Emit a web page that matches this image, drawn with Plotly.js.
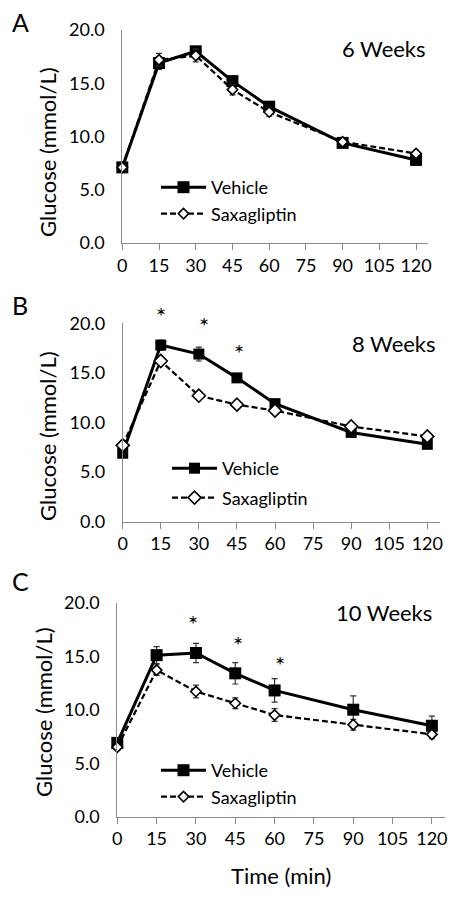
<!DOCTYPE html>
<html>
<head>
<meta charset="utf-8">
<script src="https://cdn.plot.ly/plotly-3.0.1.min.js"></script>
<style>html,body{margin:0;padding:0;background:#fff;}#chart{width:450px;height:898px;}</style>
</head>
<body>
<div id="chart"></div>
<script>
// ---- data ----
const times = [0, 15, 30, 45, 60, 90, 120];
const xTicks = [0, 15, 30, 45, 60, 75, 90, 105, 120];
const yTicks = [0, 5, 10, 15, 20];
const panelLabels = ['A', 'B', 'C'];
const weekLabels = ['6 Weeks', '8 Weeks', '10 Weeks'];
const yTitle = 'Glucose (mmol/L)';
const xTitle = 'Time (min)';

const vehicleA = [7.1, 16.9, 18.0, 15.2, 12.8, 9.4, 7.8];
const vehicleErrA = [0.2, 0.6, 0.4, 0.4, 0.3, 0.2, 0.3];
const saxaA = [7.1, 17.2, 17.6, 14.4, 12.3, 9.5, 8.4];
const saxaErrA = [0.2, 0.6, 0.6, 0.5, 0.4, 0.3, 0.3];

const vehicleB = [6.9, 17.8, 16.9, 14.5, 11.9, 9.0, 7.8];
const vehicleErrB = [0.2, 0.5, 0.7, 0.3, 0.3, 0.2, 0.2];
const saxaB = [7.7, 16.2, 12.7, 11.8, 11.2, 9.6, 8.6];
const saxaErrB = [0.2, 0.3, 0.3, 0.2, 0.2, 0.2, 0.2];

const vehicleC = [6.9, 15.1, 15.3, 13.4, 11.8, 10.0, 8.5];
const vehicleErrC = [0.4, 0.8, 0.9, 1.0, 1.1, 1.3, 0.9];
const saxaC = [6.5, 13.7, 11.7, 10.6, 9.5, 8.6, 7.7];
const saxaErrC = [0.3, 0.5, 0.6, 0.5, 0.6, 0.5, 0.4];

// significance asterisks (time position, glucose level)
const sigTimesB = [15, 32, 46];
const sigLevelsB = [21.2, 20.2, 17.5];
const sigTimesC = [29, 46, 62];
const sigLevelsC = [18.5, 16.5, 14.6];

// ---- styling ----
const FONT = 'Lato, "Open Sans", sans-serif';
const W = 450, H = 898;
const Y_MAX = 20;
const px = v => v / W;
const py = v => 1 - v / H;

const panels = [
  {veh: vehicleA, vehErr: vehicleErrA, sax: saxaA, saxErr: saxaErrA, xd: [122.3, 428.3], yd: [30, 243], leg: [156, 169], gap: 0, sqSize: 12, diSize: 8, yt: [47, 152]},
  {veh: vehicleB, vehErr: vehicleErrB, sax: saxaB, saxErr: saxaErrB, xd: [122.7, 440], yd: [323.3, 521.7], leg: [167, 450], gap: 3, sqSize: 11, diSize: 10, yt: [47, 436]},
  {veh: vehicleC, vehErr: vehicleErrC, sax: saxaC, saxErr: saxaErrC, xd: [117.3, 445], yd: [602.7, 816.7], leg: [156, 752], gap: 0, sqSize: 12, diSize: 8, yt: [43, 712]}
];

const data = [];
const layout = {
  width: W, height: H,
  margin: {l: 0, r: 0, t: 0, b: 0},
  paper_bgcolor: '#fff', plot_bgcolor: '#fff',
  font: {family: FONT, size: 18, color: '#000'},
  showlegend: true,
  annotations: []
};

panels.forEach((p, i) => {
  const n = i === 0 ? '' : String(i + 1);
  const xa = 'x' + n, ya = 'y' + n;
  const legName = 'legend' + n;
  data.push({
    x: times, y: p.veh, type: 'scatter', mode: 'lines+markers', name: 'Vehicle',
    xaxis: xa, yaxis: ya, legend: legName, legendgroup: 'v' + i, cliponaxis: false,
    line: {color: '#000', width: 3},
    marker: {symbol: 'square', size: p.sqSize, color: '#000'},
    error_y: {type: 'data', array: p.vehErr, visible: true, color: '#333', thickness: 1.2, width: 3}
  });
  data.push({
    x: times, y: p.sax, type: 'scatter', mode: 'lines+markers', name: 'Saxagliptin',
    xaxis: xa, yaxis: ya, legend: legName, legendgroup: 's' + i, cliponaxis: false,
    line: {color: '#000', width: 2.2, dash: '6px,3px'},
    marker: {symbol: 'diamond', size: p.diSize, color: '#fff', line: {color: '#000', width: 1.6}},
    error_y: {type: 'data', array: p.saxErr, visible: true, color: '#333', thickness: 1.2, width: 3}
  });

  layout['xaxis' + n] = {
    domain: [px(p.xd[0]), px(p.xd[1])], range: [0, 125], anchor: ya,
    tickvals: xTicks, ticktext: xTicks.map(String),
    showline: true, linecolor: '#8a8a8a', linewidth: 1,
    ticks: 'outside', ticklen: 6, tickcolor: '#8a8a8a',
    showgrid: false, zeroline: false,
    tickfont: {family: FONT, size: 18},
    title: i === 2 ? {text: xTitle, font: {family: FONT, size: 22}, standoff: 20} : {text: ''}
  };
  // main y axis: long transparent ticks set the label distance
  layout['yaxis' + n] = {
    domain: [py(p.yd[1]), py(p.yd[0])], range: [0, Y_MAX], anchor: xa,
    tickvals: yTicks, ticktext: yTicks.map(v => v.toFixed(1)),
    showline: true, linecolor: '#8a8a8a', linewidth: 1,
    ticks: 'outside', ticklen: 13, tickcolor: 'rgba(0,0,0,0)',
    showgrid: false, zeroline: false,
    tickfont: {family: FONT, size: 18},
    title: {text: ''}
  };
  // overlay y axis: the short visible tick marks
  const ov = 'yaxis' + (i + 4);
  layout[ov] = {
    overlaying: ya, anchor: xa, side: 'left', range: [0, Y_MAX],
    tickvals: yTicks, showticklabels: false,
    showline: false, ticks: 'outside', ticklen: 5, tickcolor: '#8a8a8a',
    showgrid: false, zeroline: false
  };
  layout[legName] = {
    x: px(p.leg[0]), y: py(p.leg[1]), xanchor: 'left', yanchor: 'top',
    bgcolor: 'rgba(0,0,0,0)', borderwidth: 0,
    font: {family: FONT, size: 18}, tracegroupgap: p.gap,
    itemwidth: 45
  };
  // y-axis title
  layout.annotations.push({
    text: yTitle, xref: 'paper', yref: 'paper', x: px(p.yt[0]), y: py(p.yt[1]),
    xanchor: 'center', yanchor: 'middle', textangle: -90, showarrow: false,
    font: {family: FONT, size: 22}
  });
});

// panel letters
[[20, 22], [20, 305], [20, 581]].forEach((pos, i) => {
  layout.annotations.push({
    text: panelLabels[i], xref: 'paper', yref: 'paper', x: px(pos[0]), y: py(pos[1]),
    xanchor: 'center', yanchor: 'middle', showarrow: false, font: {family: FONT, size: 25}
  });
});
// week labels
[[428, 48], [438, 343], [434, 612]].forEach((pos, i) => {
  layout.annotations.push({
    text: weekLabels[i], xref: 'paper', yref: 'paper', x: px(pos[0]), y: py(pos[1]),
    xanchor: 'right', yanchor: 'middle', showarrow: false, font: {family: FONT, size: 22}
  });
});
// asterisks (y given as fraction of the axis domain so they may sit above the plot)
sigTimesB.forEach((t, k) => layout.annotations.push({
  text: '*', xref: 'x2', yref: 'y2 domain', x: t, y: sigLevelsB[k] / Y_MAX, showarrow: false,
  yshift: 12, font: {family: FONT, size: 24, color: '#000'}
}));
sigTimesC.forEach((t, k) => layout.annotations.push({
  text: '*', xref: 'x3', yref: 'y3 domain', x: t, y: sigLevelsC[k] / Y_MAX, showarrow: false,
  yshift: 12, font: {family: FONT, size: 24, color: '#000'}
}));

Plotly.newPlot('chart', data, layout, {staticPlot: true, displayModeBar: false});
</script>
</body>
</html>
